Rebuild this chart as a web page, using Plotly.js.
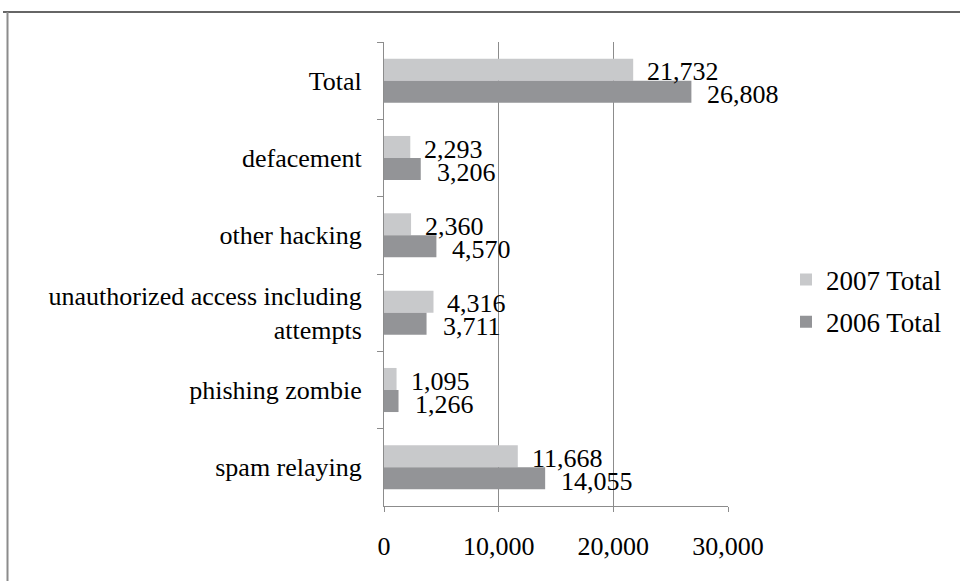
<!DOCTYPE html>
<html>
<head>
<meta charset="utf-8">
<script src="https://cdn.plot.ly/plotly-3.0.1.min.js"></script>
<style>html,body{margin:0;padding:0;background:#fff;}#chart{width:960px;height:581px;}</style>
</head>
<body>
<div id="chart"></div>
<script>
const categories = ["Total", "defacement", "other hacking", "unauthorized access including<br>attempts", "phishing zombie", "spam relaying"];
const values2007 = [21732, 2293, 2360, 4316, 1095, 11668];
const values2006 = [26808, 3206, 4570, 3711, 1266, 14055];
const seriesNames = ["2007 Total", "2006 Total"];
const xTicks = [0, 10000, 20000, 30000];
const xTickLabels = ["0", "10,000", "20,000", "30,000"];

const W = 960, H = 581;
const L = 384, R = 232, T = 42, B = 75;
const pw = W - L - R, ph = H - T - B;
const px = x => (x - L) / pw;
const py = y => 1 - (y - T) / ph;

const FONT = "Liberation Serif";
const fmt = v => v.toLocaleString("en-US");

const traces = [
  {type: "bar", orientation: "h", name: seriesNames[0], y: categories, x: values2007,
   marker: {color: "#c8c9cb"}, legendgroup: "a", hoverinfo: "none"},
  {type: "bar", orientation: "h", name: seriesNames[1], y: categories, x: values2006,
   marker: {color: "#939497"}, legendgroup: "b", hoverinfo: "none"}
];

const annotations = [];
categories.forEach((c, i) => {
  annotations.push({x: values2007[i], y: c, xref: "x", yref: "y", text: fmt(values2007[i]),
    showarrow: false, xanchor: "left", yanchor: "middle", xshift: 12, yshift: 9,
    font: {family: FONT, size: 26, color: "#000"}});
  annotations.push({x: values2006[i], y: c, xref: "x", yref: "y", text: fmt(values2006[i]),
    showarrow: false, xanchor: "left", yanchor: "middle", xshift: 14, yshift: -14,
    font: {family: FONT, size: 26, color: "#000"}});
});

const layout = {
  width: W, height: H,
  margin: {l: L, r: R, t: T, b: B, pad: 0},
  paper_bgcolor: "#fff", plot_bgcolor: "#fff",
  font: {family: FONT, size: 26, color: "#000"},
  barmode: "group", bargap: 0.43, bargroupgap: 0,
  showlegend: true,
  legend: {x: px(786), y: py(301), xanchor: "left", yanchor: "middle",
    traceorder: "grouped", tracegroupgap: 4, font: {family: FONT, size: 27, color: "#000"},
    bgcolor: "rgba(0,0,0,0)"},
  xaxis: {range: [0, 30000], tickvals: xTicks, ticktext: xTickLabels,
    showgrid: true, gridcolor: "#8c8c8c", gridwidth: 1,
    showline: true, linecolor: "#8c8c8c", linewidth: 1,
    ticks: "outside", ticklen: 5, tickcolor: "#8c8c8c",
    ticklabelstandoff: 12, zeroline: false, fixedrange: true,
    tickfont: {family: FONT, size: 26, color: "#000"}},
  yaxis: {type: "category", autorange: "reversed",
    showgrid: false, showline: true, linecolor: "#8c8c8c", linewidth: 1,
    ticks: "outside", ticklen: 6, tickcolor: "#8c8c8c", tickson: "boundaries",
    ticklabelstandoff: 16, fixedrange: true,
    tickfont: {family: FONT, size: 26, color: "#000"}},
  annotations: annotations,
  shapes: [
    {type: "line", xref: "paper", yref: "paper", x0: px(3), x1: px(960), y0: py(12), y1: py(12),
     line: {color: "#333", width: 1.5}},
    {type: "line", xref: "paper", yref: "paper", x0: px(7.5), x1: px(7.5), y0: py(12), y1: py(581),
     line: {color: "#8c8c8c", width: 2}}
  ]
};

Plotly.newPlot("chart", traces, layout, {displayModeBar: false, staticPlot: true});
</script>
</body>
</html>
